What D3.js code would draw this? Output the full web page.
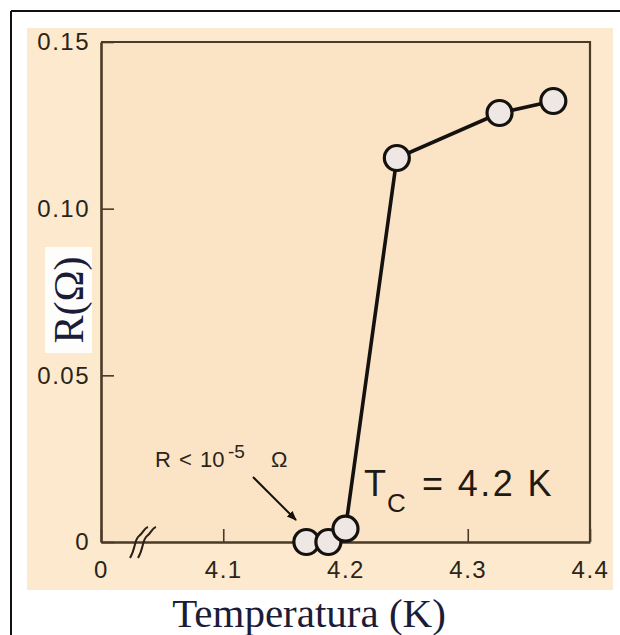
<!DOCTYPE html>
<html>
<head>
<meta charset="utf-8">
<script src="https://cdn.jsdelivr.net/npm/d3@7"></script>
<style>
  html, body { margin: 0; padding: 0; background: #ffffff; }
  svg { display: block; }
</style>
</head>
<body>
<div id="chart"></div>
<script>
// Resistance of mercury near its superconducting transition
const temperatures = [4.168, 4.186, 4.200, 4.242, 4.326, 4.370];
const resistances  = [0, 0, 0.004, 0.1152, 0.1287, 0.1323];

const xTickValues = [4.0, 4.1, 4.2, 4.3, 4.4];
const xTickLabels = ["0", "4.1", "4.2", "4.3", "4.4"];
const yTickValues = [0, 0.05, 0.10, 0.15];
const yTickLabels = ["0", "0.05", "0.10", "0.15"];

const W = 620, H = 635;
const plot = { left: 101, right: 590, top: 42, bottom: 542 };

const svg = d3.select("#chart").append("svg")
  .attr("width", W).attr("height", H);

// Page frame and panel backgrounds
svg.append("rect").attr("x", 27).attr("y", 28).attr("width", 586).attr("height", 562)
  .attr("fill", "#fde9cd");
svg.append("rect").attr("x", plot.left).attr("y", plot.top)
  .attr("width", plot.right - plot.left).attr("height", plot.bottom - plot.top)
  .attr("fill", "#fae4c5");
svg.append("line").attr("x1", 11).attr("x2", W).attr("y1", 11).attr("y2", 11)
  .attr("stroke", "#111").attr("stroke-width", 2);
svg.append("line").attr("x1", 11).attr("x2", 11).attr("y1", 11).attr("y2", H)
  .attr("stroke", "#111").attr("stroke-width", 2);

const x = d3.scaleLinear().domain([4.0, 4.4]).range([plot.left, plot.right]);
const y = d3.scaleLinear().domain([0, 0.15]).range([plot.bottom, plot.top]);

const axisColor = "#4a3a28";
const labelColor = "#2b2418";
const sans = "'Liberation Sans', Arial, sans-serif";

// Box edges (top and right)
svg.append("path")
  .attr("d", `M${plot.left},${plot.top}H${plot.right}V${plot.bottom}`)
  .attr("fill", "none").attr("stroke", axisColor).attr("stroke-width", 2.2);

// Axes with inward ticks
const xAxis = d3.axisBottom(x)
  .tickValues(xTickValues)
  .tickFormat((d, i) => xTickLabels[i])
  .tickSize(-13).tickPadding(19);
const yAxis = d3.axisLeft(y)
  .tickValues(yTickValues)
  .tickFormat((d, i) => yTickLabels[i])
  .tickSize(-13).tickPadding(11);

function styleAxis(g) {
  g.select(".domain").attr("stroke", axisColor).attr("stroke-width", 2.6);
  g.selectAll(".tick line").attr("stroke", axisColor).attr("stroke-width", 1.6);
  g.selectAll(".tick text")
    .attr("fill", labelColor)
    .style("font-family", sans)
    .style("font-size", "24px")
    .style("letter-spacing", "1.5px");
}

svg.append("g").attr("transform", `translate(0,${plot.bottom})`)
  .call(xAxis.tickSizeOuter(0)).call(styleAxis);
svg.append("g").attr("transform", `translate(${plot.left},0)`)
  .call(yAxis.tickSizeOuter(0)).call(styleAxis);

// Axis break marks on the temperature axis
const bx = x(4.0) + 42, by = plot.bottom;
[-4, 4].forEach(off => {
  svg.append("path")
    .attr("d", `M${bx + off - 9},${by + 16} C${bx + off - 3},${by + 6} ${bx + off - 5},${by - 2} ${bx + off},${by - 6} S${bx + off + 5},${by - 14} ${bx + off + 9},${by - 15}`)
    .attr("fill", "none").attr("stroke", "#2a2018").attr("stroke-width", 2);
});

// Data line and markers
const pts = temperatures.map((t, i) => ({ t, r: resistances[i] }));
svg.append("path")
  .datum(pts.slice(2))
  .attr("d", d3.line().x(d => x(d.t)).y(d => y(d.r)))
  .attr("fill", "none").attr("stroke", "#15110e").attr("stroke-width", 3.6);

svg.selectAll("circle.pt").data(pts).enter().append("circle")
  .attr("class", "pt")
  .attr("cx", d => x(d.t)).attr("cy", d => y(d.r)).attr("r", 12.5)
  .attr("fill", "#eee7e3").attr("stroke", "#15110e").attr("stroke-width", 3.2);

// Annotation: R < 10^-5 Ω with arrow
const ann = svg.append("text")
  .attr("y", 467)
  .attr("fill", "#2b2418")
  .style("font-family", sans)
  .style("font-size", "22px");
ann.append("tspan").attr("x", 155).text("R");
ann.append("tspan").attr("x", 179).text("<");
ann.append("tspan").attr("x", 200).text("10");
ann.append("tspan").attr("x", 228).attr("y", 458).style("font-size", "19px").text("-5");
ann.append("tspan").attr("x", 271).attr("y", 467).text("Ω");

svg.append("defs").append("marker")
  .attr("id", "head").attr("viewBox", "0 0 10 10")
  .attr("refX", 9).attr("refY", 5)
  .attr("markerWidth", 5).attr("markerHeight", 5)
  .attr("orient", "auto")
  .append("path").attr("d", "M0,1L10,5L0,9Z").attr("fill", "#15110e");
svg.append("line")
  .attr("x1", 253).attr("y1", 477).attr("x2", 296).attr("y2", 520)
  .attr("stroke", "#15110e").attr("stroke-width", 2)
  .attr("marker-end", "url(#head)");

// Critical temperature label
const tc = svg.append("text")
  .attr("y", 496)
  .attr("fill", "#1e1a14")
  .style("font-family", sans)
  .style("font-size", "36px");
tc.append("tspan").attr("x", 364).text("T");
tc.append("tspan").attr("x", 387).attr("y", 512).style("font-size", "26px").text("C");
tc.append("tspan").attr("x", 422).attr("y", 496).style("letter-spacing", "2.4px").text("= 4.2 K");

// Axis titles
svg.append("text")
  .attr("x", 309).attr("y", 627)
  .attr("text-anchor", "middle")
  .attr("fill", "#1c1c38")
  .style("font-family", "'Liberation Serif', 'Times New Roman', serif")
  .style("font-size", "41px")
  .text("Temperatura (K)");

svg.append("rect").attr("x", 45).attr("y", 247).attr("width", 47).attr("height", 106)
  .attr("fill", "#fdfdfc");
svg.append("text")
  .attr("transform", "translate(83,300) rotate(-90)")
  .attr("text-anchor", "middle")
  .attr("fill", "#1c1c38")
  .style("font-family", "'Liberation Serif', 'Times New Roman', serif")
  .style("font-size", "42px")
  .text("R(Ω)");
</script>
</body>
</html>
